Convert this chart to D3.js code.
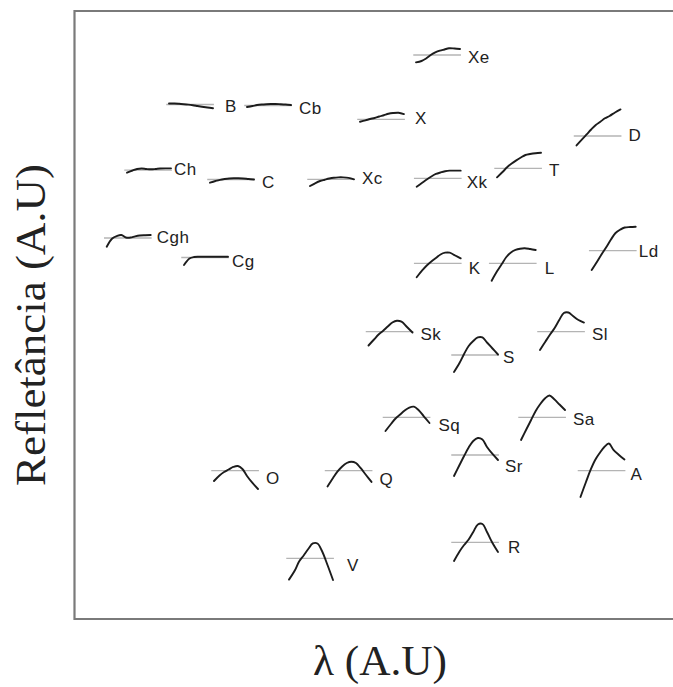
<!DOCTYPE html>
<html>
<head>
<meta charset="utf-8">
<script src="https://cdn.jsdelivr.net/npm/d3@7"></script>
<style>
  html, body { margin: 0; padding: 0; background: #fff; overflow: hidden; }
  svg { display: block; }
</style>
</head>
<body>
<svg id="chart" width="673" height="687"></svg>
<script>
// Spectral classes and where each one sits in the (λ, reflectance) plane, arbitrary units 0–100
const classes = ["B","Cb","Xe","X","D","T","Xk","Xc","C","Ch","Cgh","Cg","K","L","Ld","Sk","S","Sl","Sq","Sa","Sr","A","O","Q","V","R"];
const posX = [19.5,32.5,60.67,51.33,87.42,74.17,60.78,43,26.33,12.5,9.12,22,60.78,73.28,89.95,52.75,67,81.33,55.58,78.17,67,88.08,27,45.92,39.5,67];
const posY = [84.46,84.29,92.6,82.02,79.28,73.96,72.32,72.15,72.12,73.68,62.5,59.29,58.34,58.34,60.41,47.09,43.26,47.09,33.01,33.01,26.81,24.23,24.23,24.23,9.82,12.45];

// Wavelength samples (µm) of each mean spectrum
const wavelengths = [0.44,0.50,0.55,0.60,0.65,0.70,0.75,0.80,0.86,0.92];

// Normalized reflectance of each class (1 = reference level)
const spectra = [
  [1.017,1.017,1.012,1.005,0.997,0.987,0.975,0.963,0.95,0.937],   // B
  [0.975,0.992,1.008,1.017,1.022,1.025,1.025,1.022,1.017,1.008],  // Cb
  [0.878,0.9,0.942,1.0,1.042,1.072,1.092,1.112,1.108,1.1],        // Xe
  [0.96,0.983,1.005,1.022,1.047,1.068,1.092,1.105,1.11,1.088],    // X
  [0.842,0.942,1.025,1.108,1.183,1.237,1.295,1.333,1.392,1.442],  // D
  [0.85,0.938,1.017,1.08,1.133,1.18,1.222,1.238,1.252,1.26],      // T
  [0.86,0.925,0.98,1.03,1.072,1.097,1.117,1.127,1.127,1.127],     // Xk
  [0.888,0.938,0.972,0.993,1.013,1.027,1.033,1.033,1.025,1.0],    // Xc
  [0.947,0.975,0.995,1.008,1.017,1.02,1.02,1.017,1.008,1.0],      // C
  [0.955,0.992,1.017,1.025,1.017,1.012,1.017,1.025,1.028,1.028],  // Ch
  [0.855,0.992,1.033,1.05,1.008,1.008,1.028,1.042,1.047,1.05],    // Cgh
  [0.875,0.983,1.008,1.013,1.013,1.013,1.013,1.013,1.013,1.013],  // Cg
  [0.767,0.88,0.963,1.03,1.088,1.147,1.177,1.177,1.13,1.083],     // K
  [0.71,0.87,0.988,1.105,1.18,1.222,1.243,1.25,1.238,1.222],      // L
  [0.678,0.82,0.945,1.062,1.187,1.295,1.35,1.387,1.395,1.4],      // Ld
  [0.77,0.87,0.953,1.017,1.087,1.153,1.183,1.167,1.078,0.987],    // Sk
  [0.717,0.867,1.017,1.15,1.233,1.292,1.292,1.208,1.108,1.008],   // S
  [0.695,0.837,0.953,1.062,1.195,1.312,1.32,1.262,1.195,1.153],   // Sl
  [0.772,0.888,0.98,1.047,1.113,1.163,1.177,1.122,1.013,0.905],   // Sq
  [0.622,0.805,0.955,1.105,1.222,1.313,1.363,1.305,1.213,1.122],  // Sa
  [0.65,0.833,0.983,1.125,1.233,1.283,1.258,1.133,1.017,0.917],   // Sr
  [0.562,0.812,1.012,1.178,1.295,1.395,1.453,1.345,1.262,1.187],  // A
  [0.828,0.92,0.978,1.02,1.062,1.078,1.028,0.912,0.795,0.695],    // O
  [0.737,0.878,0.987,1.07,1.128,1.15,1.128,1.045,0.928,0.812],    // Q
  [0.645,0.787,0.945,1.047,1.155,1.247,1.247,1.122,0.888,0.638],  // V
  [0.688,0.847,0.955,1.047,1.172,1.297,1.305,1.172,0.988,0.838]   // R
];

const xTitle = "λ (A.U)";
const yTitle = "Refletância (A.U)";

// ---- layout ----
const plot = { left: 74, right: 674, top: 10, bottom: 618 };
const svg = d3.select("#chart");

const x = d3.scaleLinear().domain([0, 100]).range([plot.left, plot.right]);
const y = d3.scaleLinear().domain([0, 100]).range([plot.bottom, plot.top]);

// Local scales for each small spectrum glyph
const lam = d3.scaleLinear().domain([0.44, 0.92]).range([-22, 22]);
const refl = d3.scaleLinear().domain([0, 2]).range([60, -60]);

// Small label nudges (px) where a class name sits off the default spot
const labelNudge = {
  B:[4,0], X:[3,-3], D:[0,-3], Xc:[0,-3], Ch:[-5,-3], Cgh:[-2,-3], Cg:[-4,1],
  K:[0,3], L:[1,3], Ld:[-5,-2], S:[-3,0], Sq:[1,6], Sr:[-1,9], O:[0,5],
  Q:[0,6], V:[6,5], R:[2,3], Xk:[-2,2], A:[-2,1]
};

// Frame: open on the right, running off the page
const fx0 = plot.left + 0.5, fy0 = plot.top + 1, fy1 = plot.bottom + 1;
svg.append("path")
  .attr("d", `M700,${fy0}H${fx0}V${fy1}H700`)
  .attr("fill", "none").attr("stroke", "#7a7a7a").attr("stroke-width", 2.2);

const line = d3.line()
  .x(d => lam(d[0]))
  .y(d => refl(d[1]))
  .curve(d3.curveCatmullRom.alpha(0.5));

const glyphs = svg.append("g").selectAll("g")
  .data(classes.map((c, i) => ({ name: c, px: posX[i], py: posY[i], s: spectra[i] })))
  .join("g")
  .attr("transform", d => `translate(${x(d.px)},${y(d.py)})`);

// reference level
glyphs.append("line")
  .attr("x1", lam(0.41)).attr("x2", lam(0.93))
  .attr("y1", refl(1)).attr("y2", refl(1))
  .attr("stroke", "#b4b4b4").attr("stroke-width", 1.3);

// mean spectrum
glyphs.append("path")
  .attr("d", d => line(wavelengths.map((w, j) => [w, d.s[j]])))
  .attr("fill", "none").attr("stroke", "#1c1c1c").attr("stroke-width", 1.9)
  .attr("stroke-linecap", "round").attr("stroke-linejoin", "round");

// class name
glyphs.append("text")
  .attr("x", d => lam(0.92) + 8 + (labelNudge[d.name] ? labelNudge[d.name][0] : 0))
  .attr("y", d => refl(1) + 8 + (labelNudge[d.name] ? labelNudge[d.name][1] : 0))
  .attr("font-family", "'Liberation Sans', Arial, sans-serif")
  .attr("font-size", 17).attr("letter-spacing", 0.5)
  .attr("fill", "#222")
  .text(d => d.name);

// Axis titles
svg.append("text")
  .attr("x", 380).attr("y", 675)
  .attr("text-anchor", "middle")
  .attr("font-family", "'Liberation Serif', 'Times New Roman', serif")
  .attr("font-size", 42).attr("fill", "#222")
  .attr("textLength", 134).attr("lengthAdjust", "spacingAndGlyphs")
  .text(xTitle);

svg.append("text")
  .attr("transform", "translate(45,325) rotate(-90)")
  .attr("text-anchor", "middle")
  .attr("font-family", "'Liberation Serif', 'Times New Roman', serif")
  .attr("font-size", 42).attr("fill", "#222")
  .attr("textLength", 322).attr("lengthAdjust", "spacingAndGlyphs")
  .text(yTitle);
</script>
</body>
</html>
